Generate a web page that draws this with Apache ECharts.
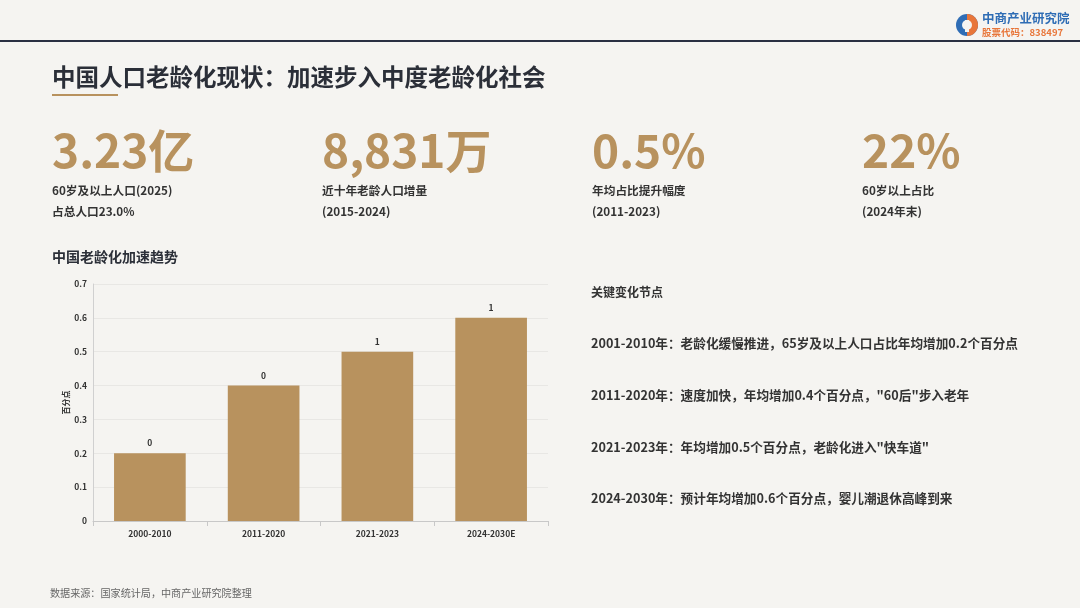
<!DOCTYPE html>
<html>
<head>
<meta charset="utf-8">
<script src="https://cdn.jsdelivr.net/npm/echarts@6/dist/echarts.min.js"></script>
<style>
html,body{margin:0;padding:0;background:#f5f4f1;}
#c{width:1080px;height:608px;}
</style>
</head>
<body>
<div id="c"></div>
<script>
const categories = ['2000-2010', '2011-2020', '2021-2023', '2024-2030E'];
const values = [0.2, 0.4, 0.5, 0.6];
const yTicks = { min: 0, max: 0.7, interval: 0.1 };

const kpiValues = ['3.23亿', '8,831万', '0.5%', '22%'];
const kpiLine1 = ['60岁及以上人口(2025)', '近十年老龄人口增量', '年均占比提升幅度', '60岁以上占比'];
const kpiLine2 = ['占总人口23.0%', '(2015-2024)', '(2011-2023)', '(2024年末)'];
const kpiX = [52, 322, 592, 862];

const notesTitle = '关键变化节点';
const notes = [
  '2001-2010年：老龄化缓慢推进，65岁及以上人口占比年均增加0.2个百分点',
  '2011-2020年：速度加快，年均增加0.4个百分点，"60后"步入老年',
  '2021-2023年：年均增加0.5个百分点，老龄化进入"快车道"',
  '2024-2030年：预计年均增加0.6个百分点，婴儿潮退休高峰到来'
];
const noteY = [343, 395, 447, 498];

const FONT = '"Noto Sans CJK SC", "Noto Sans", sans-serif';
const GOLD = '#b8925e';
const DARK = '#2b2f38';
const BG = '#f5f4f1';

const graphics = [];
// top rule
graphics.push({ type: 'rect', shape: { x: 0, y: 40, width: 1080, height: 2 }, style: { fill: '#2a3042' } });
// logo
graphics.push({ type: 'circle', shape: { cx: 967, cy: 25, r: 11 }, style: { fill: '#2f6db5' } });
graphics.push({ type: 'sector', shape: { cx: 967, cy: 25, r: 11, r0: 0, startAngle: -Math.PI / 2, endAngle: Math.PI / 2 }, style: { fill: '#e8763a' } });
graphics.push({ type: 'circle', shape: { cx: 967, cy: 25, r: 5 }, style: { fill: BG } });
graphics.push({ type: 'rect', shape: { x: 965, y: 20, width: 4, height: 12 }, style: { fill: BG } });
graphics.push({ type: 'text', x: 982, y: 18, style: { text: '中商产业研究院', font: 'bold 12.5px ' + FONT, fill: '#2f6db5', textVerticalAlign: 'middle' } });
graphics.push({ type: 'text', x: 982, y: 32, style: { text: '股票代码：838497', font: 'bold 9.5px ' + FONT, fill: '#e8763a', textVerticalAlign: 'middle' } });
// title
graphics.push({ type: 'text', x: 52, y: 77, style: { text: '中国人口老龄化现状：加速步入中度老龄化社会', font: 'bold 23.5px ' + FONT, fill: DARK, textVerticalAlign: 'middle' } });
graphics.push({ type: 'rect', shape: { x: 52, y: 94, width: 66, height: 2 }, style: { fill: GOLD } });
// KPIs
kpiValues.forEach((v, i) => {
  graphics.push({ type: 'text', x: kpiX[i], y: 151, style: { text: v, font: 'bold 46px ' + FONT, fill: GOLD, textVerticalAlign: 'middle' } });
  graphics.push({ type: 'text', x: kpiX[i], y: 191, style: { text: kpiLine1[i], font: 'bold 11.7px ' + FONT, fill: '#333', textVerticalAlign: 'middle' } });
  graphics.push({ type: 'text', x: kpiX[i], y: 212, style: { text: kpiLine2[i], font: 'bold 11.7px ' + FONT, fill: '#333', textVerticalAlign: 'middle' } });
});
// chart title
graphics.push({ type: 'text', x: 52, y: 257, style: { text: '中国老龄化加速趋势', font: 'bold 14px ' + FONT, fill: DARK, textVerticalAlign: 'middle' } });
// notes
graphics.push({ type: 'text', x: 591, y: 292, style: { text: notesTitle, font: 'bold 12px ' + FONT, fill: '#333', textVerticalAlign: 'middle' } });
notes.forEach((n, i) => {
  graphics.push({ type: 'text', x: 591, y: noteY[i], style: { text: n, font: 'bold 12.65px ' + FONT, fill: '#333', textVerticalAlign: 'middle' } });
});
// footer
graphics.push({ type: 'text', x: 50, y: 593, style: { text: '数据来源：国家统计局，中商产业研究院整理', font: '10.1px ' + FONT, fill: '#666', textVerticalAlign: 'middle' } });

const chart = echarts.init(document.getElementById('c'));
chart.setOption({
  backgroundColor: BG,
  animation: false,
  graphic: graphics,
  grid: { left: 93, right: 532, top: 284, bottom: 87 },
  xAxis: {
    type: 'category',
    data: categories,
    axisLine: { lineStyle: { color: '#c8c8c8' } },
    axisTick: { show: true, lineStyle: { color: '#c8c8c8' } },
    axisLabel: { color: '#333', fontSize: 8.5, fontWeight: 'bold', fontFamily: FONT, margin: 9 }
  },
  yAxis: {
    type: 'value',
    min: yTicks.min, max: yTicks.max, interval: yTicks.interval,
    name: '百分点',
    nameLocation: 'middle',
    nameGap: 14,
    nameRotate: 90,
    nameTextStyle: { color: '#333', fontSize: 8, fontWeight: 'bold', fontFamily: FONT },
    axisLine: { show: true, lineStyle: { color: '#d0d0d0' } },
    axisTick: { show: false },
    splitLine: { lineStyle: { color: '#e8e7e4' } },
    axisLabel: { color: '#333', fontSize: 8.5, fontWeight: 'bold', fontFamily: FONT, margin: 6 }
  },
  series: [{
    type: 'bar',
    data: values,
    barWidth: '63%',
    itemStyle: { color: GOLD },
    label: {
      show: true, position: 'top', distance: 6,
      color: '#333', fontSize: 8.5, fontWeight: 'bold', fontFamily: FONT,
      formatter: p => String(Math.round(p.value))
    }
  }]
});
</script>
</body>
</html>
